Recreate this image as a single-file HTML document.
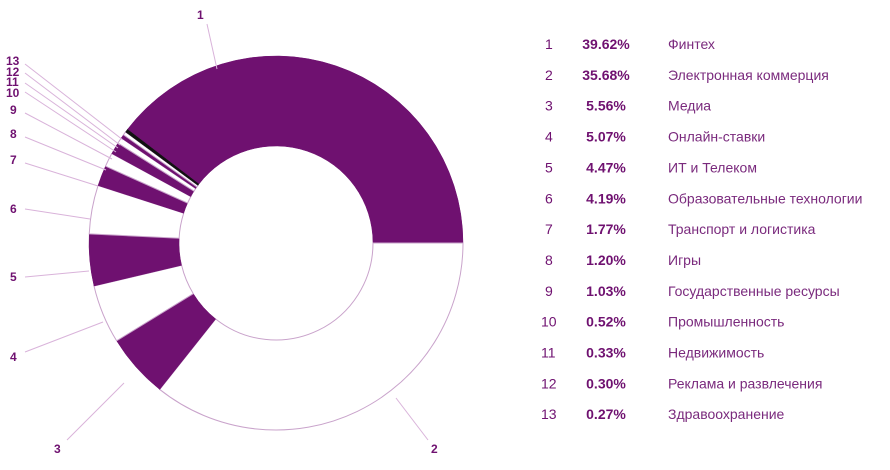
<!DOCTYPE html>
<html><head><meta charset="utf-8"><style>
body{margin:0;background:#fff;width:890px;height:465px;overflow:hidden;font-family:"Liberation Sans",sans-serif}
</style></head><body>
<svg id="s" width="890" height="465" xmlns="http://www.w3.org/2000/svg" font-family="Liberation Sans, sans-serif">
<g id="pie"></g>
<g stroke="#d9b3da" stroke-width="1" fill="none">
<line x1="207" y1="24" x2="217" y2="69"/>
<line x1="428" y1="440" x2="396" y2="398"/>
<line x1="67" y1="440" x2="124" y2="383"/>
<line x1="25" y1="352" x2="103" y2="322"/>
<line x1="25" y1="277" x2="89" y2="271"/>
<line x1="25" y1="209" x2="90" y2="219"/>
<line x1="25" y1="163" x2="98" y2="186"/>
<line x1="25" y1="137" x2="106" y2="170"/>
<line x1="25" y1="113" x2="112" y2="159"/>
<line x1="25" y1="92" x2="116" y2="152"/>
<line x1="25" y1="83" x2="118" y2="148"/>
<line x1="25" y1="73" x2="120" y2="145"/>
<line x1="25" y1="64" x2="123" y2="140"/>
</g>
<g fill="#6f1170" font-size="12" font-weight="bold">
<text x="197" y="19">1</text><text x="431" y="453">2</text><text x="54" y="453">3</text>
<text x="10" y="361">4</text><text x="10" y="281">5</text><text x="10" y="213">6</text>
<text x="10" y="164">7</text><text x="10" y="138">8</text><text x="10" y="114">9</text>
<text x="6" y="97">10</text><text x="6" y="86">11</text><text x="6" y="76">12</text><text x="6" y="65">13</text>
</g>
<g id="leg" fill="#6f1170" font-size="14"></g>
</svg>
<script>
var v=[39.62,35.68,5.56,5.07,4.47,4.19,1.77,1.20,1.03,0.52,0.33,0.30,0.27];
var n=["Финтех","Электронная коммерция","Медиа","Онлайн-ставки","ИТ и Телеком","Образовательные технологии","Транспорт и логистика","Игры","Государственные ресурсы","Промышленность","Недвижимость","Реклама и развлечения","Здравоохранение"];
var cx=276,cy=243,R=187,r=97,tot=v.reduce((a,b)=>a+b,0),a=-142.6*Math.PI/180,h="";
function p(rad,an){return (cx+rad*Math.cos(an)).toFixed(2)+","+(cy+rad*Math.sin(an)).toFixed(2);}
v.forEach(function(x,i){var b=a+x/tot*2*Math.PI,l=(b-a)>Math.PI?1:0;
var f=i==12?"#111":(i%2==0?"#6f1170":"#fff");
h+='<path d="M'+p(R,a)+' A'+R+','+R+' 0 '+l+' 1 '+p(R,b)+' L'+p(r,b)+' A'+r+','+r+' 0 '+l+' 0 '+p(r,a)+' Z" fill="'+f+'" stroke="'+(i%2==0?f:"#c9a3cb")+'" stroke-width="'+(i%2==0?0.5:1)+'"/>';a=b;});
document.getElementById("pie").innerHTML=h;
var g="";v.forEach(function(x,i){var y=49+i*30.85;
g+='<text x="'+(i<9?545:541)+'" y="'+y+'">'+(i+1)+'</text><text x="606" y="'+y+'" text-anchor="middle" font-weight="600">'+x.toFixed(2)+'%</text><text x="668" y="'+y+'" fill="#7a2a7d">'+n[i]+'</text>';});
document.getElementById("leg").innerHTML=g;
</script>
</body></html>
